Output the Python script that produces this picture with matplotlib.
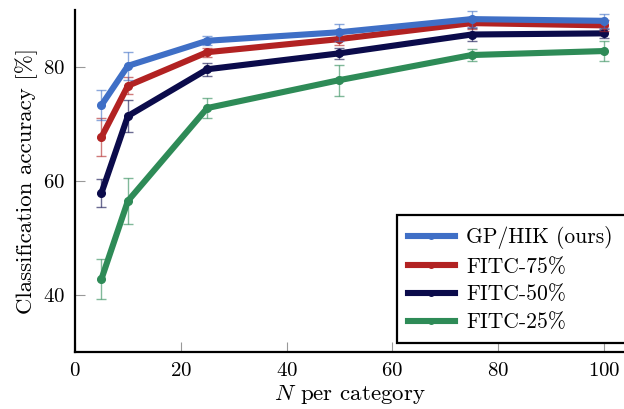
import matplotlib
matplotlib.use("Agg")
import matplotlib.pyplot as plt

plt.rcParams['font.family'] = ['cmr10', 'DejaVu Serif']
plt.rcParams['mathtext.fontset'] = 'cm'
plt.rcParams['axes.formatter.use_mathtext'] = True

n_per_cat = [5, 10, 25, 50, 75, 100]
series_names = ["GP/HIK (ours)", "FITC-75%", "FITC-50%", "FITC-25%"]
gp_hik = [73.3, 80.2, 84.6, 86.1, 88.4, 88.1]
gp_hik_err = [2.6, 2.4, 0.8, 1.5, 1.4, 1.2]
fitc75 = [67.7, 76.7, 82.6, 84.9, 87.7, 87.3]
fitc75_err = [3.4, 1.5, 0.8, 1.0, 1.0, 1.0]
fitc50 = [57.9, 71.4, 79.6, 82.4, 85.7, 85.9]
fitc50_err = [2.5, 2.8, 1.1, 1.0, 1.2, 0.8]
fitc25 = [42.8, 56.5, 72.8, 77.7, 82.1, 82.8]
fitc25_err = [3.5, 4.0, 1.8, 2.7, 1.0, 1.7]
colors = ["#3F6FC6", "#B22222", "#0B0B4B", "#2E8B57"]

fig = plt.figure(figsize=(6.24, 4.09), dpi=100)
ax = fig.add_axes([75/624, 57/409, 1 - 75/624, (352-10)/409])

data = [(gp_hik, gp_hik_err), (fitc75, fitc75_err), (fitc50, fitc50_err), (fitc25, fitc25_err)]
for i, ((vals, errs), name, c) in enumerate(zip(data, series_names, colors)):
    ax.errorbar(n_per_cat, vals, yerr=errs, fmt='none', ecolor=c, alpha=0.6,
                elinewidth=1.0, capsize=3.5, capthick=1.0, zorder=10 - i)
    ax.plot(n_per_cat, vals, color=c, lw=4.4, marker='o', ms=5.5,
            label=name, zorder=10 - i + 0.5)

ax.set_xlim(0, 103.8)
ax.set_ylim(30, 90)
ax.set_xticks([0, 20, 40, 60, 80, 100])
ax.set_yticks([40, 60, 80])
for s in ['top', 'right']:
    ax.spines[s].set_visible(False)
for s in ['left', 'bottom']:
    ax.spines[s].set_linewidth(1.6)
ax.tick_params(direction='in', length=7, width=0.8, color='#999999',
               labelsize=15, pad=7)
ax.set_xlabel(r"$N$ per category", fontsize=16.5, labelpad=2)
ax.set_ylabel("Classification accuracy [%]", fontsize=16.5, labelpad=4)

leg = ax.legend(loc='lower left', bbox_to_anchor=(397/624, 66/409, 240/624, 127/409),
                bbox_transform=fig.transFigure, mode='expand', fontsize=15.5,
                frameon=True, fancybox=False, edgecolor='black', framealpha=1,
                handlelength=2.2, borderpad=0.5, labelspacing=0.38,
                handletextpad=0.5, borderaxespad=0)
leg.get_frame().set_linewidth(1.6)
for h in leg.legend_handles:
    h.set_markersize(4)

fig.savefig("out.png", dpi=100)
